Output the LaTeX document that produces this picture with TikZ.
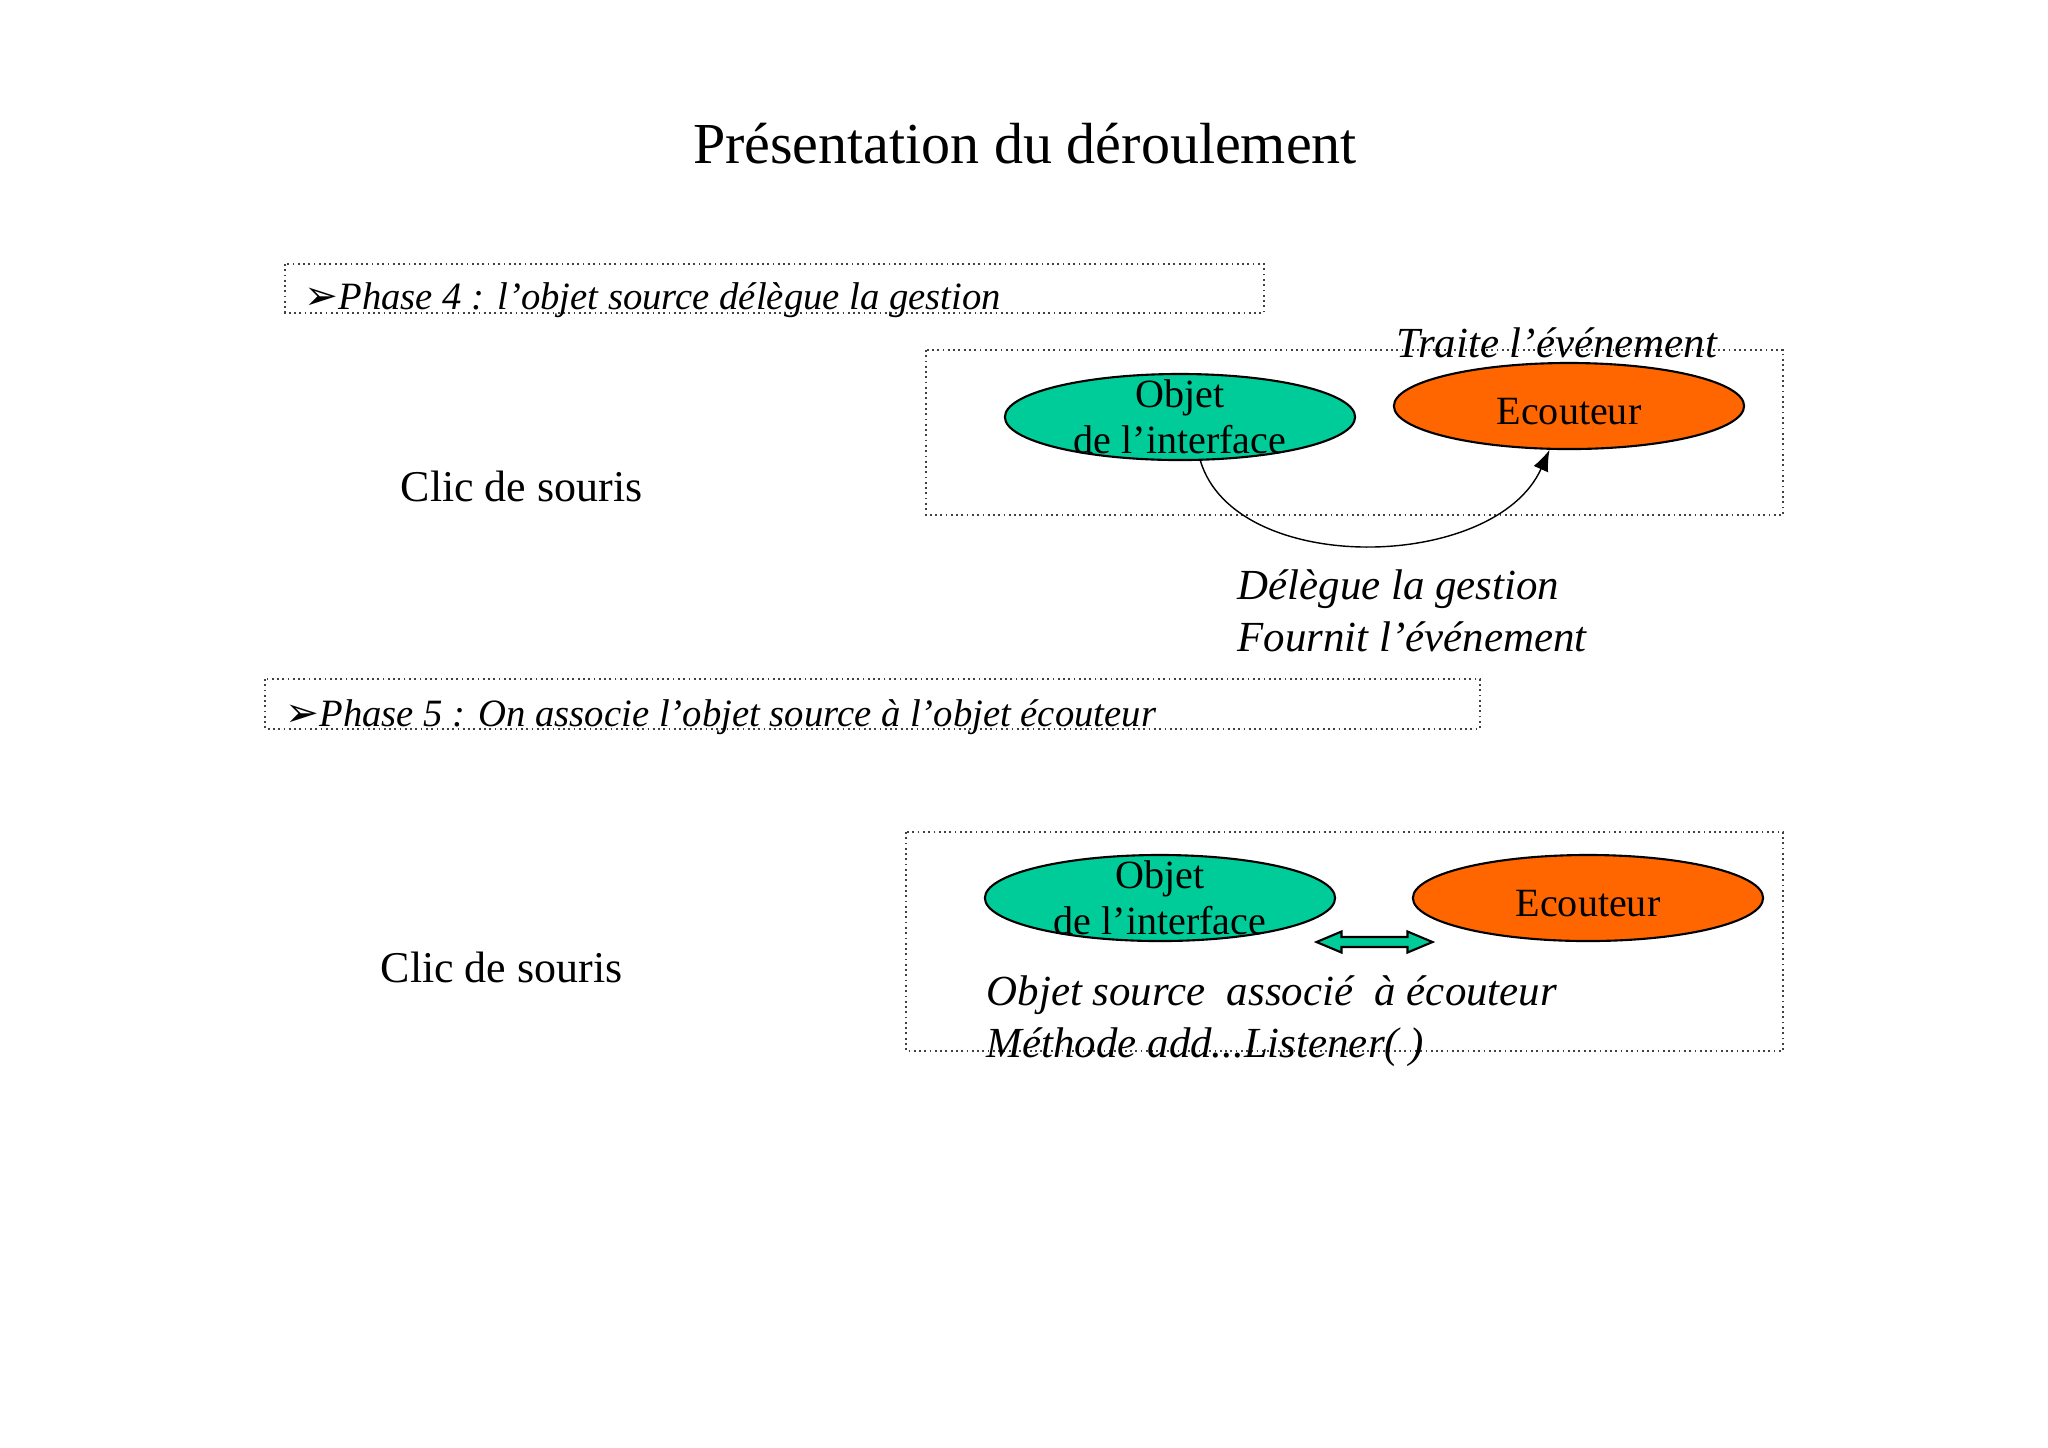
\documentclass[tikz,border=0pt]{standalone}
\usepackage{fontspec}
\setmainfont{Liberation Serif}
\newfontfamily\symbfont{DejaVu Sans}
\usetikzlibrary{shapes.geometric,arrows.meta}
\definecolor{vertobj}{HTML}{00CC99}
\definecolor{orangeec}{HTML}{FF6600}
\tikzset{
  objet/.style={ellipse, draw, line width=0.6pt, fill=vertobj, minimum width=3.5cm,
    minimum height=0.86cm, inner xsep=0pt, inner ysep=-4pt, align=center,
    font=\fontsize{11.4}{13.2}\selectfont},
  ecouteur/.style={objet, fill=orangeec, text height=10.5pt, text depth=0pt},
  zone/.style={draw=black!75, densely dotted, line width=0.5pt},
  phase/.style={anchor=base west, inner sep=0pt, font=\fontsize{11}{13}\selectfont\itshape},
  note/.style={anchor=base west, inner sep=0pt, font=\fontsize{12.2}{14.6}\selectfont\itshape},
  clic/.style={anchor=base west, inner sep=0pt, font=\fontsize{12.5}{15}\selectfont},
}
\begin{document}
\begin{tikzpicture}[x=0.01cm, y=-0.01cm]
  \fill[white] (0,0) rectangle (2048,1447);
  \useasboundingbox (0,0) rectangle (2048,1447);
  \node[anchor=base, font=\fontsize{16.5}{20}\selectfont] (titre) at (1025,163) {Présentation du déroulement};
  % phase 4
  \draw[zone] (285,264) rectangle (1264,313);
  \node[phase] (ph4) at (304,309) {{\symbfont\fontsize{11.5}{13}\selectfont ➢}Phase 4 : l’objet source délègue la gestion};
  \draw[zone] (926,350) rectangle (1783,515);
  \node[objet] (obj1) at (1180,417) {Objet\\de l’interface};
  \node[ecouteur] (ec1) at (1569,406) {Ecouteur};
  \node[note] (traite) at (1396,357) {Traite l’événement};
  \node[clic] (clic1) at (400,501) {Clic de souris};
  \draw [>={Latex[length=6pt,width=4.5pt]}, ->] (obj1.-65) .. controls (1235,577) and (1495,572) .. (ec1.-114);
  \node[note] (delegue) at (1237,599) {Délègue la gestion};
  \node[note] (fournit) at (1237,651) {Fournit l’événement};
  % phase 5
  \draw[zone] (265,679) rectangle (1480,729);
  \node[phase] (ph5) at (285,726) {{\symbfont\fontsize{11.5}{13}\selectfont ➢}Phase 5 : On associe l’objet source à l’objet écouteur};
  \draw[zone] (906,832) rectangle (1783,1051);
  \node[objet] (obj2) at (1160,898) {Objet\\de l’interface};
  \node[ecouteur] (ec2) at (1588,898) {Ecouteur};
  \coordinate (assoc) at (1374.5,942);
  \filldraw[fill=vertobj, line width=0.6pt, shift={(assoc)}] (-58,0) -- (-33,-10.5) -- (-33,-5) -- (33,-5) -- (33,-10.5) -- (58,0)
    -- (33,10.5) -- (33,5) -- (-33,5) -- (-33,10.5) -- cycle;
  \node[note] (source) at (986,1005) {Objet source\ \ associé\ \ à écouteur};
  \node[note] (methode) at (986,1057) {Méthode add...Listener( )};
  \node[clic] (clic2) at (380,982) {Clic de souris};
\end{tikzpicture}
\end{document}
